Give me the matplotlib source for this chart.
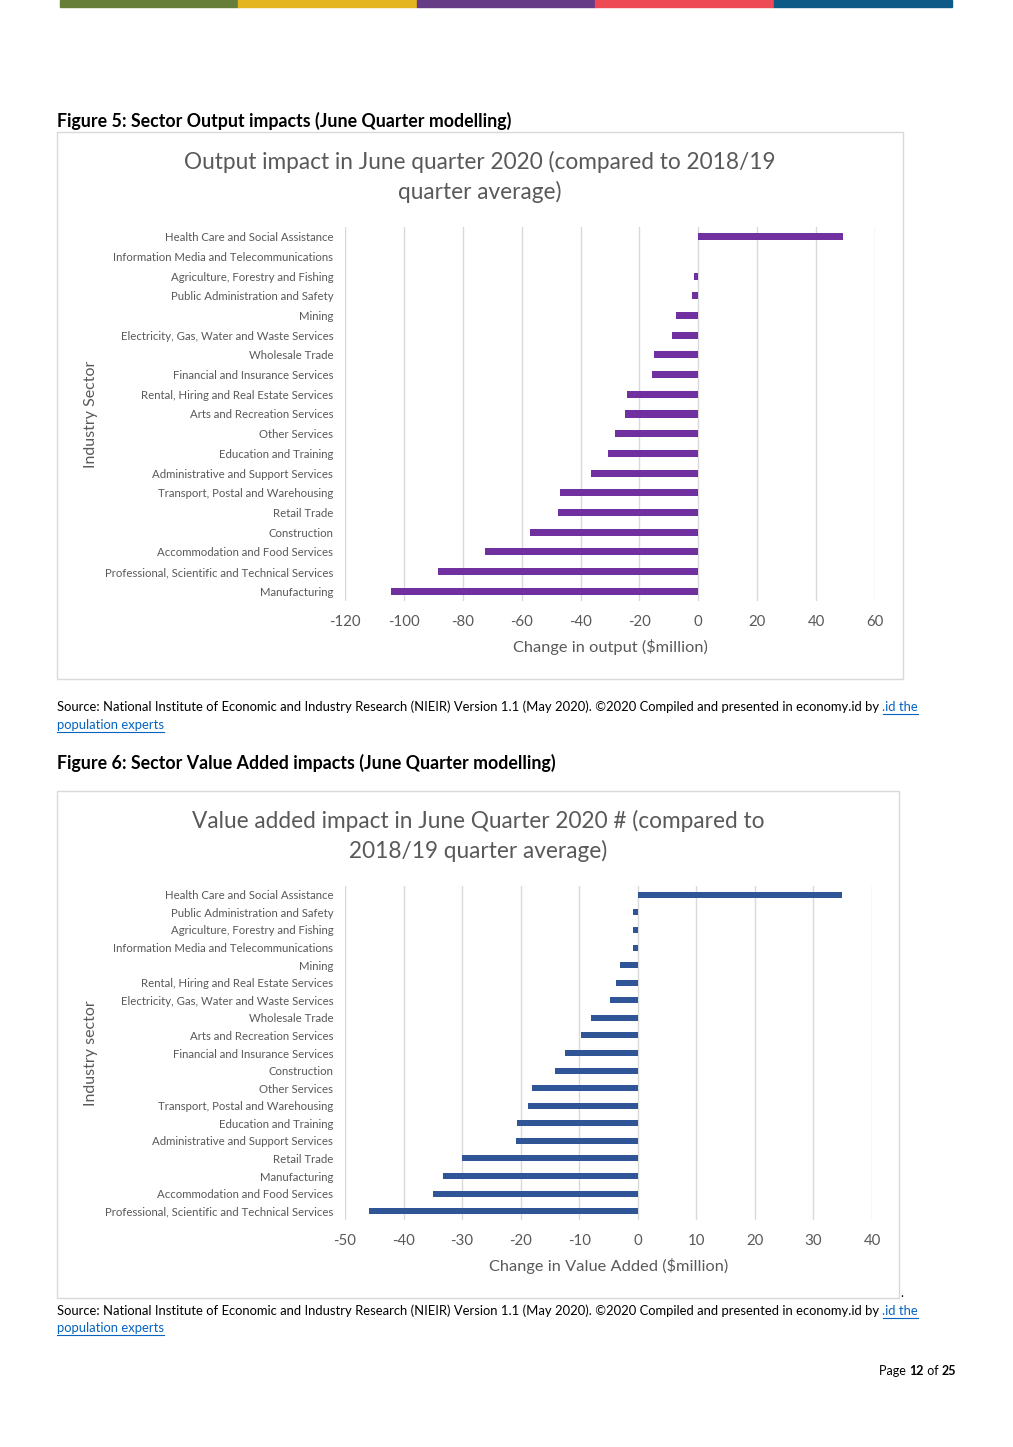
import numpy as np
import matplotlib
matplotlib.use("Agg")
import matplotlib.pyplot as plt
from matplotlib.patches import Rectangle
from matplotlib.lines import Line2D

plt.rcParams['font.family'] = ['Lato', 'DejaVu Sans']

# ---- data ----
out_sectors = ["Health Care and Social Assistance", "Information Media and Telecommunications",
               "Agriculture, Forestry and Fishing", "Public Administration and Safety", "Mining",
               "Electricity, Gas, Water and Waste Services", "Wholesale Trade",
               "Financial and Insurance Services", "Rental, Hiring and Real Estate Services",
               "Arts and Recreation Services", "Other Services", "Education and Training",
               "Administrative and Support Services", "Transport, Postal and Warehousing",
               "Retail Trade", "Construction", "Accommodation and Food Services",
               "Professional, Scientific and Technical Services", "Manufacturing"]
out_values = [49.1, 0.0, -1.6, -2.3, -7.6, -8.8, -14.9, -15.8, -24.1, -24.9, -28.4, -30.8,
              -36.6, -47.1, -47.6, -57.2, -72.5, -88.4, -104.3]
out_ticks = [-120, -100, -80, -60, -40, -20, 0, 20, 40, 60]

va_sectors = ["Health Care and Social Assistance", "Public Administration and Safety",
              "Agriculture, Forestry and Fishing", "Information Media and Telecommunications",
              "Mining", "Rental, Hiring and Real Estate Services",
              "Electricity, Gas, Water and Waste Services", "Wholesale Trade",
              "Arts and Recreation Services", "Financial and Insurance Services", "Construction",
              "Other Services", "Transport, Postal and Warehousing", "Education and Training",
              "Administrative and Support Services", "Retail Trade", "Manufacturing",
              "Accommodation and Food Services", "Professional, Scientific and Technical Services"]
va_values = [34.9, -0.8, -0.8, -0.9, -3.0, -3.7, -4.7, -8.0, -9.7, -12.4, -14.1, -18.1,
             -18.8, -20.6, -20.8, -30.1, -33.2, -34.9, -45.9]
va_ticks = [-50, -40, -30, -20, -10, 0, 10, 20, 30, 40]

stripe_colors = ["#677E38", "#E5B51F", "#673C87", "#EE4A55", "#0D5A86"]

W, H = 1013, 1447
fig = plt.figure(figsize=(W / 100, H / 100), dpi=100)
fig.patch.set_facecolor("white")

def fx(x):
    return x / W

def fy(y):
    return 1 - y / H

# colour strip at top of the page
sw = (952 - 60) / len(stripe_colors)
for i, c in enumerate(stripe_colors):
    fig.patches.append(Rectangle((fx(60 + i * sw), fy(7)), sw / W, 7 / H,
                                 transform=fig.transFigure, color=c, zorder=0))

GREY = "#595959"

def chart(box, axpos, sectors, values, ticks, color, title, xlabel, ylabel, bh):
    x0, y0, x1, y1 = box
    fig.patches.append(Rectangle((fx(x0), fy(y1)), (x1 - x0) / W, (y1 - y0) / H,
                                 transform=fig.transFigure, fill=False,
                                 edgecolor="#D9D9D9", lw=1))
    l, t, r, b = axpos
    ax = fig.add_axes([fx(l), fy(b), (r - l) / W, (b - t) / H])
    y = np.arange(len(sectors))
    ax.barh(y, values, height=bh, color=color, zorder=3)
    ax.set_ylim(len(sectors) - 0.5, -0.5)
    ax.set_xlim(ticks[0], ticks[-1])
    ax.set_xticks(ticks)
    ax.set_xticklabels([str(t) for t in ticks], fontsize=10.8, color=GREY)
    ax.set_yticks(y)
    ax.set_yticklabels(sectors, fontsize=8.2, color=GREY)
    ax.tick_params(axis="y", length=0, pad=8.5)
    ax.tick_params(axis="x", length=0, pad=10)
    ax.grid(axis="x", color="#D9D9D9", lw=1, zorder=0)
    for s in ax.spines.values():
        s.set_visible(False)
    fig.text(fx((x0 + x1) / 2), fy(title[1]), title[0], ha="center", va="center",
             fontsize=16.3, color=GREY, linespacing=1.45)
    fig.text(fx((l + r) / 2), fy(xlabel[1]), xlabel[0], ha="center", va="center",
             fontsize=11.8, color=GREY)
    fig.text(fx(91), fy((t + b) / 2), ylabel, ha="center", va="center",
             rotation=90, fontsize=11.5, color=GREY)
    return ax

chart((57, 132, 903, 679), (345, 227, 875, 601), out_sectors, out_values, out_ticks,
      "#7030A0",
      ("Output impact in June quarter 2020 (compared to 2018/19\nquarter average)", 177),
      ("Change in output (\\$million)", 647), "Industry Sector", 0.36)

chart((57, 791, 899, 1298), (345, 886, 872, 1220), va_sectors, va_values, va_ticks,
      "#2F5597",
      ("Value added impact in June Quarter 2020 # (compared to\n2018/19 quarter average)", 836),
      ("Change in Value Added (\\$million)", 1266), "Industry sector", 0.34)

# captions and sources
fig.text(fx(57), fy(121), "Figure 5: Sector Output impacts (June Quarter modelling)",
         fontsize=12.8, fontweight="bold", va="center", ha="left")
fig.text(fx(57), fy(763), "Figure 6: Sector Value Added impacts (June Quarter modelling)",
         fontsize=12.8, fontweight="bold", va="center", ha="left")
fig.text(fx(900), fy(1293), ".", fontsize=9, va="center", ha="left")

fig.canvas.draw()
renderer = fig.canvas.get_renderer()

def runs(x, y, parts, size, anchor="left"):
    # place text pieces one after another; parts = (text, weight, color, underline)
    texts = []
    for s, w, c, u in parts:
        tx = fig.text(fx(x), fy(y), s, fontsize=size, fontweight=w, color=c,
                      va="baseline", ha="left")
        bb = tx.get_window_extent(renderer)
        texts.append((tx, bb, u, c))
        x += bb.width
    if anchor == "right":
        total = x - texts[0][1].x0
        shift = total
        for tx, bb, u, c in texts:
            px, py = tx.get_position()
            tx.set_position((px - shift / W, py))
    fig.canvas.draw()
    for tx, bb, u, c in texts:
        if u:
            bb = tx.get_window_extent(renderer)
            yline = fy(y) - 2.5 / H
            fig.lines.append(Line2D([bb.x0 / W, bb.x1 / W], [yline, yline],
                                    transform=fig.transFigure, color=c, lw=0.8))

BLUE = "#0563C1"
src = ("Source: National Institute of Economic and Industry Research (NIEIR) Version 1.1 "
       "(May 2020). \u00a92020 Compiled and presented in economy.id by ")
for y1, y2 in [(711, 729), (1315, 1332)]:
    runs(57, y1, [(src, "normal", "black", False), (".id the", "normal", BLUE, True)], 9.4)
    runs(57, y2, [("population experts", "normal", BLUE, True)], 9.4)

runs(956, 1375, [("Page ", "normal", "black", False), ("12", "bold", "black", False),
                 (" of ", "normal", "black", False), ("25", "bold", "black", False)],
     9, anchor="right")

fig.savefig("out.png", dpi=100, facecolor="white")
